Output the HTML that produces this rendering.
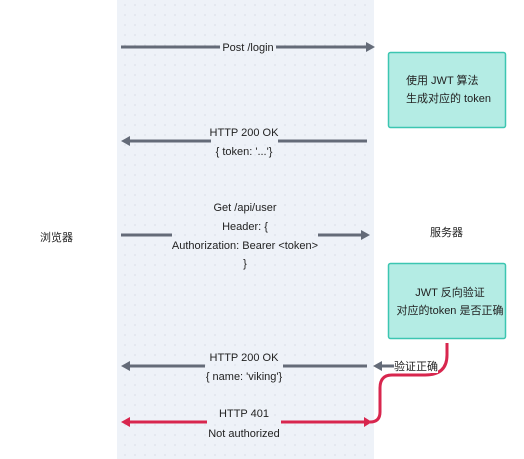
<!DOCTYPE html>
<html><head><meta charset="utf-8"><style>
html,body{margin:0;padding:0;width:524px;height:459px;overflow:hidden;background:#fff;}
svg{display:block}
text{font-family:"Liberation Sans","Noto Sans CJK SC",sans-serif;font-size:11px;fill:#222;}
</style></head><body>
<svg width="524" height="459" viewBox="0 0 524 459" xmlns="http://www.w3.org/2000/svg">
<defs>
<pattern id="d" width="10" height="10" patternUnits="userSpaceOnUse"><circle cx="5" cy="5" r="0.6" fill="#c9d0da"/></pattern>
</defs>
<rect x="117" y="0" width="257" height="459" fill="#eef2f8"/>
<rect x="117" y="0" width="257" height="459" fill="url(#d)"/>
<g stroke="#646b78" stroke-width="3" fill="#646b78">
<line x1="121" y1="47" x2="220" y2="47"/><line x1="276" y1="47" x2="368" y2="47"/>
<polygon points="375,47 366,42 366,52" stroke="none"/>
<line x1="128" y1="141" x2="211" y2="141"/><line x1="278" y1="141" x2="367" y2="141"/>
<polygon points="121,141 130,136 130,146" stroke="none"/>
<line x1="121" y1="235" x2="172" y2="235"/><line x1="318" y1="235" x2="363" y2="235"/>
<polygon points="370,235 361,230 361,240" stroke="none"/>
<line x1="128" y1="366" x2="205" y2="366"/><line x1="283" y1="366" x2="367" y2="366"/>
<polygon points="121,366 130,361 130,371" stroke="none"/>
<line x1="380" y1="366" x2="394" y2="366"/>
<polygon points="373,366 382,361 382,371" stroke="none"/>
</g>
<g stroke="#d8264e" stroke-width="3" fill="none">
<path d="M447,343 L447,355 Q447,375 425,375 L392,375 Q380,375 380,388 L380,412 Q380,422 370,422"/>
<line x1="128" y1="422" x2="207" y2="422"/><line x1="281" y1="422" x2="366" y2="422"/>
</g>
<polygon points="121,422 130,417 130,427" fill="#d8264e"/>
<polygon points="372,422 364,417 364,427" fill="#d8264e"/>
<rect x="388.5" y="52.5" width="117" height="75" rx="2" fill="#b4ece4" stroke="#3cc6b1" stroke-width="1.5"/>
<rect x="388.5" y="263.5" width="117" height="75" rx="2" fill="#b4ece4" stroke="#3cc6b1" stroke-width="1.5"/>
<text x="248" y="51" text-anchor="middle">Post /login</text>
<text x="406" y="84">使用 JWT 算法</text>
<text x="406" y="102">生成对应的 token</text>
<text x="244" y="136" text-anchor="middle">HTTP 200 OK</text>
<text x="244" y="155" text-anchor="middle">{ token: '...'}</text>
<text x="245" y="211" text-anchor="middle">Get /api/user</text>
<text x="245" y="230" text-anchor="middle">Header: {</text>
<text x="245" y="249" text-anchor="middle">Authorization: Bearer &lt;token&gt;</text>
<text x="245" y="267" text-anchor="middle">}</text>
<text x="40" y="241">浏览器</text>
<text x="430" y="236">服务器</text>
<text x="450" y="296" text-anchor="middle">JWT 反向验证</text>
<text x="450" y="314" text-anchor="middle">对应的token 是否正确</text>
<text x="244" y="361" text-anchor="middle">HTTP 200 OK</text>
<text x="244" y="380" text-anchor="middle">{ name: 'viking'}</text>
<rect x="394" y="358" width="44" height="15" fill="#fff"/>
<text x="394" y="370">验证正确</text>
<text x="244" y="417" text-anchor="middle">HTTP 401</text>
<text x="244" y="437" text-anchor="middle">Not authorized</text>
</svg>
</body></html>
